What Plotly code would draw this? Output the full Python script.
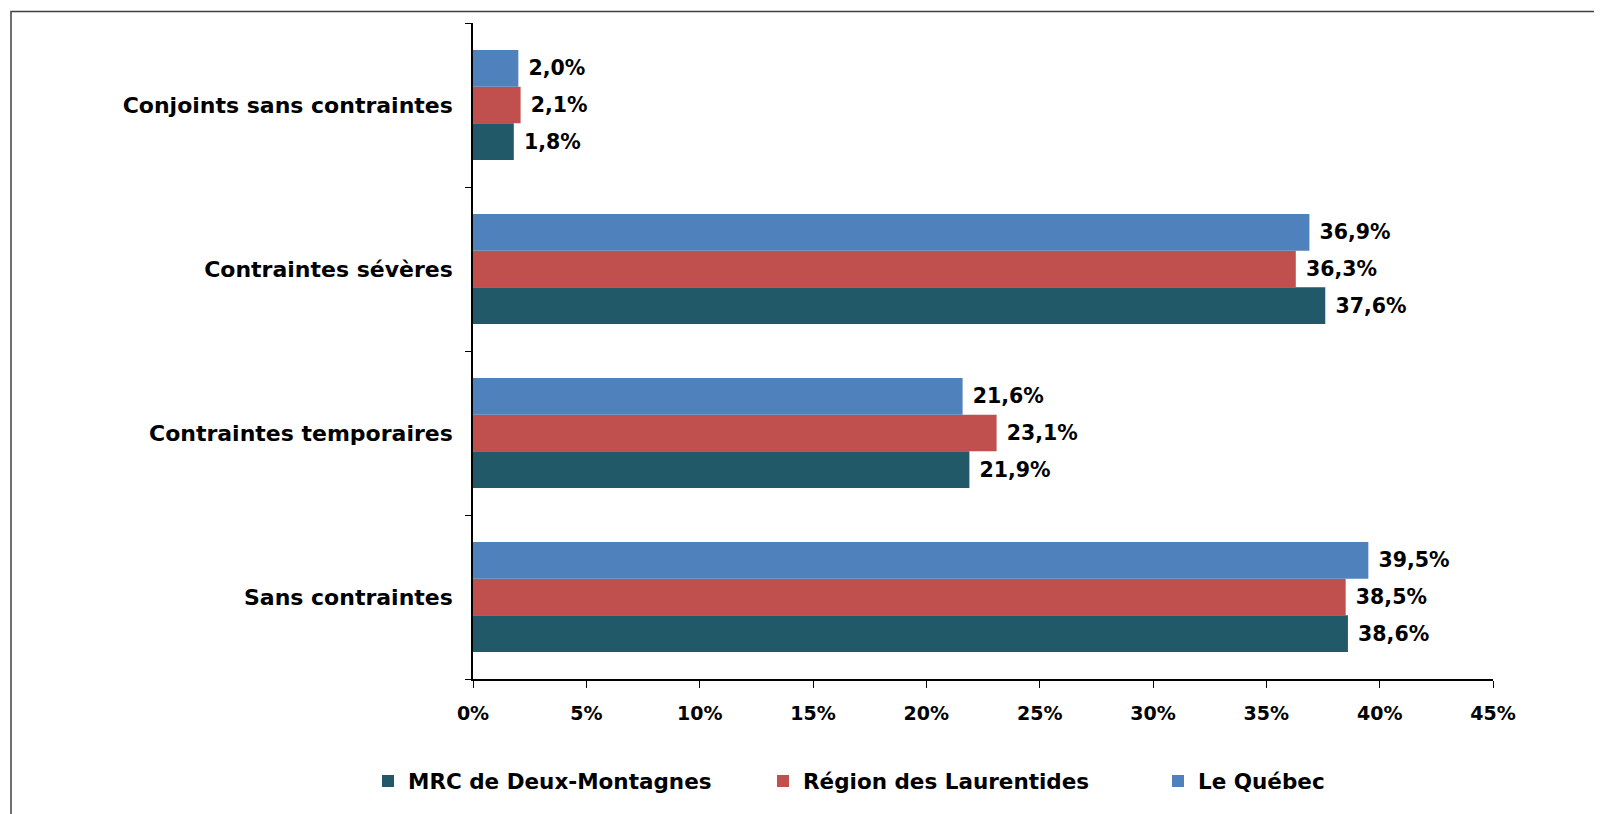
import plotly.graph_objects as go

# data
categories = ["Sans contraintes", "Contraintes temporaires", "Contraintes sévères", "Conjoints sans contraintes"]
mrc = [38.6, 21.9, 37.6, 1.8]
region = [38.5, 23.1, 36.3, 2.1]
quebec = [39.5, 21.6, 36.9, 2.0]
series_names = ["MRC de Deux-Montagnes", "Région des Laurentides", "Le Québec"]
colors = ["#215968", "#C0504D", "#4F81BD"]
x_ticks = [0, 5, 10, 15, 20, 25, 30, 35, 40, 45]
x_ticktext = [f"{t}%" for t in x_ticks]

# page has an 8px body margin, so the figure is drawn 8px smaller
W, H = 1594, 806
ml, mt = 465, 14.5
pw, ph = 1020, 656.5
mr, mb = W - ml - pw, H - mt - ph

FONT = "DejaVu Sans, Liberation Sans, Arial, sans-serif"

fig = go.Figure()
for name, vals, col in zip(series_names, [mrc, region, quebec], colors):
    fig.add_trace(go.Bar(
        y=categories, x=vals, name=name, orientation="h",
        marker=dict(color=col, line=dict(width=0)),
        texttemplate=" %{x:.1f}%", textposition="outside",
        textfont=dict(size=20.5, color="black", weight="bold"),
        cliponaxis=False,
    ))

# outer frame
fig.add_shape(type="rect", xref="paper", yref="paper",
              x0=(3 - ml) / pw, x1=(W + 10 - ml) / pw,
              y0=-(H + 10 - mt - ph) / ph, y1=1 + (mt - 3) / ph,
              line=dict(color="#404040", width=1.5), fillcolor="rgba(0,0,0,0)")

fig.update_layout(
    width=W, height=H,
    margin=dict(l=ml, r=mr, t=mt, b=mb, pad=0),
    paper_bgcolor="white", plot_bgcolor="white",
    font=dict(family=FONT, color="black", size=18, weight="bold"),
    separators=", ",
    barmode="group", bargap=0.33, bargroupgap=0,
    xaxis=dict(range=[0, 45], tickvals=x_ticks, ticktext=x_ticktext, showgrid=False, zeroline=False,
               showline=True, linecolor="black", linewidth=1.5, ticks="outside", ticklen=7,
               tickcolor="black", tickfont=dict(size=19), ticklabelstandoff=9),
    yaxis=dict(showgrid=False, showline=True, linecolor="black", linewidth=1.5,
               ticks="outside", ticklen=6, tickcolor="black", tickson="boundaries",
               tickfont=dict(size=22), ticklabelstandoff=14),
    legend=dict(orientation="h", x=(360 - ml) / pw, xanchor="left", y=-(773 - mt - ph) / ph,
                yanchor="middle", font=dict(size=21.5), entrywidth=350, traceorder="normal"),
)

fig.write_html("out.html")
